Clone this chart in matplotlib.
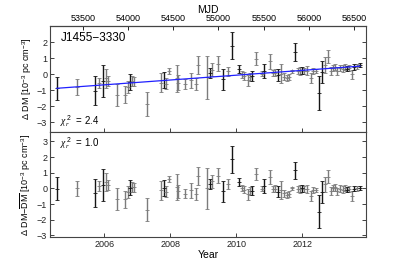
import matplotlib.pyplot as plt
import numpy as np

plt.rcParams['font.family'] = ['Liberation Sans', 'DejaVu Sans']
plt.rcParams['mathtext.fontset'] = 'custom'
plt.rcParams['mathtext.rm'] = 'Liberation Sans'
plt.rcParams['mathtext.it'] = 'Liberation Serif:italic'

# DM measurements (MJD, delta DM in 1e-3 pc cm^-3, uncertainty, black=True / grey=False)
mjd = [53209, 53434, 53628, 53675, 53727, 53755, 53777, 53877, 53969, 53998,
       54021, 54043, 54062, 54205, 54360, 54395, 54414, 54452, 54538, 54555,
       54630, 54693, 54751, 54770, 54870, 54906, 54932, 54991, 55053, 55102,
       55146, 55231, 55264, 55286, 55323, 55346, 55374, 55415, 55478, 55504,
       55565, 55607, 55626, 55662, 55689, 55725, 55755, 55784, 55811, 55847,
       55884, 55903, 55921, 55950, 55977, 56021, 56050, 56080, 56116, 56143,
       56179, 56216, 56242, 56265, 56290, 56315, 56345, 56375, 56400, 56426,
       56448, 56475, 56504, 56537, 56566]
dm = [-0.89, -0.79, -1.02, -0.54, -0.45, -0.25, -0.44, -1.28, -1.27, -0.78,
      -0.49, -0.44, -0.46, -1.84, -0.52, -0.35, -0.60, 0.21, -0.25, -0.52,
      -0.63, -0.39, -0.60, 0.55, -0.20, 0.08, 0.27, 0.66, -0.31, 0.17,
      1.77, 0.34, -0.02, -0.10, -0.39, -0.18, -0.13, 0.95, 0.03, 0.20,
      0.80, 0.08, 0.10, -0.07, 0.03, -0.15, -0.26, -0.16, 0.19, 1.37,
      0.19, 0.20, 0.24, 0.20, 0.22, -0.23, 0.20, 0.20, -1.17, 0.12,
      0.60, 1.10, 0.19, 0.40, 0.45, 0.20, 0.40, 0.35, 0.45, 0.35,
      0.40, -0.02, 0.45, 0.50, 0.55]
dm_err = [0.71, 0.50, 0.90, 0.30, 1.00, 0.60, 0.30, 0.68, 0.52, 0.38,
          0.47, 0.31, 0.27, 0.74, 0.60, 0.50, 0.35, 0.20, 0.85, 0.44,
          0.30, 0.47, 0.38, 0.57, 1.32, 0.31, 0.40, 0.47, 0.65, 0.30,
          0.85, 0.26, 0.20, 0.25, 0.36, 0.26, 0.30, 0.40, 0.15, 0.44,
          0.45, 0.20, 0.20, 0.37, 0.58, 0.23, 0.18, 0.20, 0.10, 0.55,
          0.21, 0.24, 0.21, 0.18, 0.26, 0.31, 0.20, 0.13, 1.04, 0.70,
          0.50, 0.40, 0.25, 0.20, 0.20, 0.23, 0.20, 0.22, 0.20, 0.16,
          0.20, 0.31, 0.16, 0.16, 0.13]
black = [1, 0, 1, 0, 1, 0, 0, 0, 0, 0,
         1, 0, 0, 0, 0, 1, 0, 0, 0, 0,
         0, 0, 0, 0, 0, 1, 0, 0, 1, 0,
         1, 1, 0, 0, 0, 0, 1, 0, 0, 1,
         0, 0, 0, 1, 0, 0, 0, 0, 0, 1,
         0, 0, 1, 0, 0, 0, 0, 0, 1, 1,
         0, 0, 0, 0, 0, 0, 0, 0, 0, 1,
         0, 0, 1, 0, 1]

# linear DM trend (reference MJD, value there, slope per day)
fit_mjd0 = 53209
fit_dm0 = -0.88
fit_slope = 4.11e-4
chi2_top = '2.4'
chi2_bot = '1.0'
psr = 'J1455\u22123330'

mjd_ticks = [53500, 54000, 54500, 55000, 55500, 56000, 56500]
year_ticks = [2006, 2008, 2010, 2012]

mjd = np.array(mjd, float)
dm = np.array(dm)
dm_err = np.array(dm_err)
black = np.array(black, bool)
trend = fit_dm0 + fit_slope * (mjd - fit_mjd0)
resid = dm - trend


def year_to_mjd(y):
    return 51544.5 + (np.asarray(y) - 2000.0) * 365.25


fig = plt.figure(figsize=(4.07, 2.65), dpi=100)
ax1 = fig.add_axes([0.1229, 0.5019, 0.7764, 0.4])
ax2 = fig.add_axes([0.1229, 0.1057, 0.7764, 0.3962])

for ax, yv in ((ax1, dm), (ax2, resid)):
    for sel, col in ((~black, '#7c7c7c'), (black, '#151515')):
        ax.errorbar(mjd[sel], yv[sel], yerr=dm_err[sel], fmt='+', ms=2.5,
                    mew=0.6, color=col, ecolor=col, elinewidth=1.0,
                    capsize=1.6, capthick=0.6, zorder=3)
    ax.set_xlim(53135, 56633)
    ax.set_xticks(year_to_mjd(year_ticks))
    ax.tick_params(direction='in', length=3, width=0.6, labelsize=6.5,
                   right=True, top=False, pad=2, colors='#222222')
    for s in ax.spines.values():
        s.set_linewidth(0.8)
        s.set_color('#444444')

ax1.plot([mjd[0], mjd[-1]], [trend[0], trend[-1]], color='#2020ff', lw=0.9, zorder=4)
ax1.set_ylim(-3.6, 3.0)
ax1.set_yticks([-3, -2, -1, 0, 1, 2])
ax1.set_yticklabels(['\u22123', '\u22122', '\u22121', '0', '1', '2'])
ax1.tick_params(labelbottom=False)
top = ax1.secondary_xaxis('top')
top.set_xticks(mjd_ticks)
top.tick_params(direction='in', length=3, width=0.6, labelsize=6.5, pad=2)
top.set_xlabel('MJD', fontsize=7.5, labelpad=1)
ax1.set_ylabel('\u0394 DM [10$^{-3}$ pc cm$^{-3}$]', fontsize=6.5, labelpad=3)
ax1.text(0.035, 0.86, psr, transform=ax1.transAxes, fontsize=8.5)
ax1.text(0.03, 0.07, '$\\mathit{\\chi}_r^{\\,2}$  = ' + chi2_top,
         transform=ax1.transAxes, fontsize=7)

ax2.set_ylim(-3.1, 3.6)
ax2.set_yticks([-3, -2, -1, 0, 1, 2, 3])
ax2.set_yticklabels(['\u22123', '\u22122', '\u22121', '0', '1', '2', '3'])
ax2.set_xticklabels([str(y) for y in year_ticks])
ax2.set_xlabel('Year', fontsize=7.5, labelpad=1)
ax2.set_ylabel('\u0394 DM\u2212$\\overline{\\rm DM}$ [10$^{-3}$ pc cm$^{-3}$]',
               fontsize=6.5, labelpad=3)
ax2.text(0.03, 0.86, '$\\mathit{\\chi}_r^{\\,2}$  = ' + chi2_bot,
         transform=ax2.transAxes, fontsize=7)

fig.savefig('out.png', dpi=100)
